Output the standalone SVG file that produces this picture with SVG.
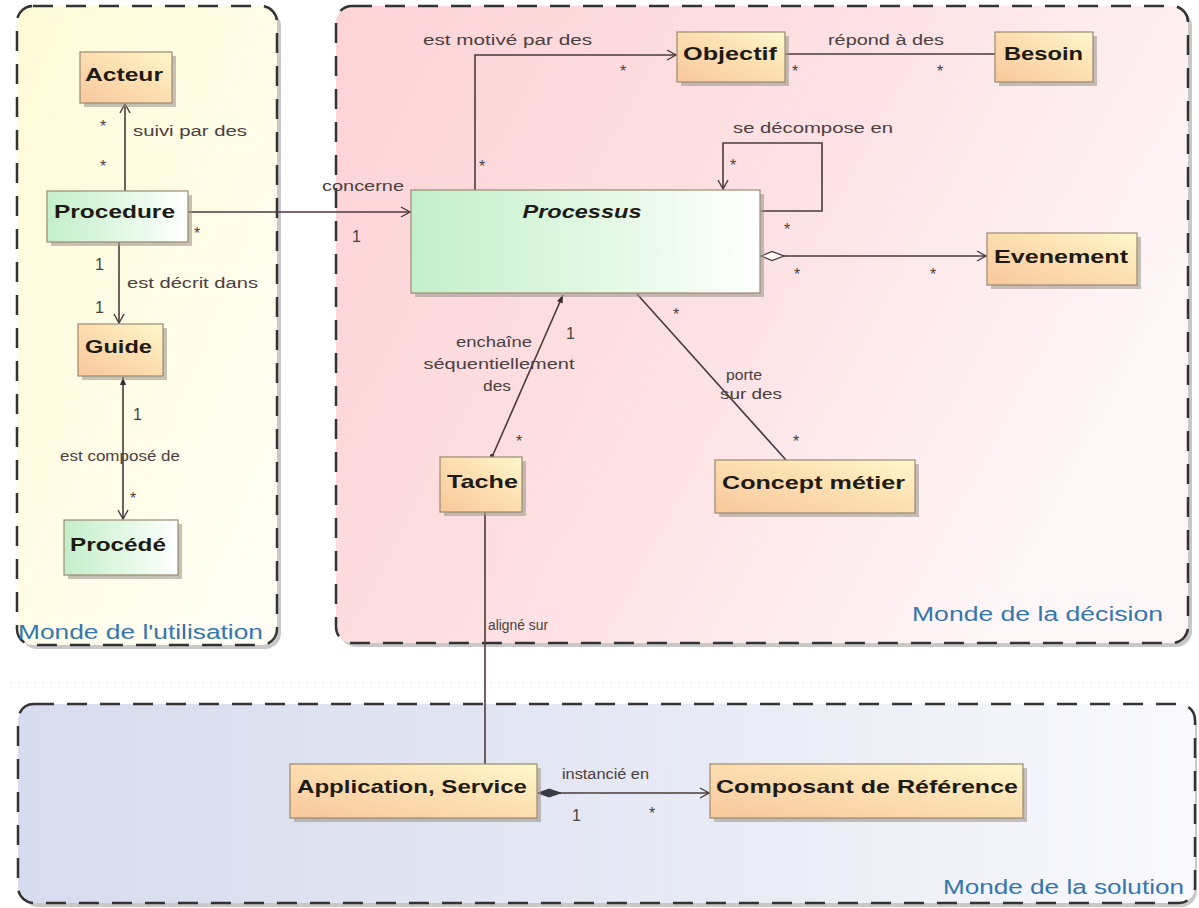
<svg xmlns="http://www.w3.org/2000/svg" width="1199" height="908" viewBox="0 0 1199 908">
<defs>
<linearGradient id="gYel" x1="0" y1="0" x2="1" y2="1"><stop offset="0" stop-color="#fffbd8"/><stop offset="1" stop-color="#fffef6"/></linearGradient>
<linearGradient id="gPink" x1="0" y1="0" x2="1" y2="0.4"><stop offset="0" stop-color="#fdd3d6"/><stop offset="0.6" stop-color="#fde3e6"/><stop offset="1" stop-color="#fff6f7"/></linearGradient>
<linearGradient id="gBlue" x1="0" y1="0" x2="1" y2="0"><stop offset="0" stop-color="#d6dcee"/><stop offset="0.6" stop-color="#e8ebf5"/><stop offset="1" stop-color="#fafafd"/></linearGradient>
<linearGradient id="gOr" x1="0" y1="1" x2="1" y2="0"><stop offset="0" stop-color="#f8c89c"/><stop offset="0.6" stop-color="#fde2b4"/><stop offset="1" stop-color="#fff8cc"/></linearGradient>
<linearGradient id="gGr" x1="0" y1="0" x2="1" y2="0"><stop offset="0" stop-color="#c3efca"/><stop offset="0.6" stop-color="#e6f9e8"/><stop offset="1" stop-color="#ffffff"/></linearGradient>
<marker id="open" markerWidth="12" markerHeight="12" refX="10" refY="6" orient="auto" markerUnits="userSpaceOnUse"><path d="M1,1 L10,6 L1,11" fill="none" stroke="#4a3a3a" stroke-width="1.4"/></marker>
<marker id="fdiam" markerWidth="26" markerHeight="12" refX="1" refY="6" orient="auto" markerUnits="userSpaceOnUse"><path d="M1,6 L12,2 L24,6 L12,10 Z" fill="#3a3a45" stroke="#3a3a45"/></marker>
<marker id="hdiam" markerWidth="28" markerHeight="12" refX="1" refY="6" orient="auto" markerUnits="userSpaceOnUse"><path d="M1,6 L12,1.5 L24,6 L12,10.5 Z" fill="#fff8f8" stroke="#4a3a3a" stroke-width="1.3"/></marker>
<marker id="sfill" markerWidth="10" markerHeight="10" refX="1" refY="5" orient="auto" markerUnits="userSpaceOnUse"><path d="M1,5 L9,2 L9,8 Z" fill="#3a2a2a"/></marker>
</defs>
<style>
.cont{stroke:#333;stroke-width:2.5;stroke-dasharray:20 13}
.csh{fill:#9a9a9a;opacity:0.55}
.clab{font-family:"Liberation Sans",Arial,sans-serif;font-size:20px;fill:#3476ad}
.box{stroke:#9a8a70;stroke-width:1.2}
.sh{fill:#a09a90;opacity:0.6}
.nt{font-family:"Liberation Sans",Arial,sans-serif;font-weight:bold;font-size:19px;fill:#1e1a14}
.lab{font-family:"Liberation Sans",Arial,sans-serif;font-size:14px;fill:#4a4040}
.m{font-family:"Liberation Sans",Arial,sans-serif;font-size:16px;fill:#4a4040}
.ln{fill:none;stroke:#4a3a3a;stroke-width:1.6}
</style>
<rect width="1199" height="908" fill="#ffffff"/>
<g id="bg-grid" stroke="#e4e4d8" stroke-width="1" stroke-dasharray="2 6">
<line x1="10" y1="683" x2="1195" y2="683"/>
</g>
<g id="monde-utilisation">
<rect class="csh" x="21" y="10" width="260" height="639" rx="16"/>
<rect class="cont" x="17" y="6" width="260" height="639" rx="16" fill="url(#gYel)"/>
<text class="clab" x="18" y="639" textLength="245" lengthAdjust="spacingAndGlyphs">Monde de l'utilisation</text>
</g>
<g id="monde-decision">
<rect class="csh" x="340" y="10" width="852" height="637" rx="16"/>
<rect class="cont" x="336" y="6" width="852" height="637" rx="16" fill="url(#gPink)"/>
<text class="clab" x="912" y="621" textLength="251" lengthAdjust="spacingAndGlyphs">Monde de la décision</text>
</g>
<g id="monde-solution">
<rect class="csh" x="22" y="708" width="1175" height="199" rx="16"/>
<rect class="cont" x="18" y="704" width="1177" height="199" rx="16" fill="url(#gBlue)"/>
<text class="clab" x="943" y="894" textLength="241" lengthAdjust="spacingAndGlyphs">Monde de la solution</text>
</g>
<g id="connectors">
<line class="ln" x1="125" y1="191" x2="125" y2="104" marker-end="url(#open)"/>
<text class="lab" x="133" y="136" textLength="114" lengthAdjust="spacingAndGlyphs">suivi par des</text>
<text class="m" x="100" y="132">*</text>
<text class="m" x="100" y="172">*</text>
<line class="ln" x1="119" y1="242" x2="119" y2="323" marker-end="url(#open)"/>
<text class="m" x="95" y="270">1</text>
<text class="m" x="95" y="313">1</text>
<text class="lab" x="127" y="288" textLength="131" lengthAdjust="spacingAndGlyphs">est décrit dans</text>
<line class="ln" x1="123" y1="377" x2="123" y2="519" marker-start="url(#sfill)" marker-end="url(#open)"/>
<text class="m" x="133" y="420">1</text>
<text class="lab" x="60" y="461" font-size="12" textLength="120" lengthAdjust="spacingAndGlyphs">est composé de</text>
<text class="m" x="130" y="504">*</text>
<line class="ln" x1="188" y1="212" x2="410" y2="212" marker-end="url(#open)"/>
<text class="lab" x="322" y="191" textLength="82" lengthAdjust="spacingAndGlyphs">concerne</text>
<text class="m" x="352" y="242">1</text>
<text class="m" x="194" y="239">*</text>
<polyline class="ln" points="475,190 475,55 676,55" marker-end="url(#open)"/>
<text class="lab" x="423" y="45" textLength="169" lengthAdjust="spacingAndGlyphs">est motivé par des</text>
<text class="m" x="479" y="172">*</text>
<text class="m" x="620" y="77">*</text>
<line class="ln" x1="785" y1="54" x2="995" y2="54"/>
<text class="lab" x="828" y="45" textLength="116" lengthAdjust="spacingAndGlyphs">répond à des</text>
<text class="m" x="792" y="77">*</text>
<text class="m" x="937" y="77">*</text>
<polyline class="ln" points="761,211 822,211 822,143 723,143 723,189" marker-end="url(#open)"/>
<text class="lab" x="733" y="133" textLength="160" lengthAdjust="spacingAndGlyphs">se décompose en</text>
<text class="m" x="730" y="171">*</text>
<text class="m" x="784" y="235">*</text>
<line class="ln" x1="761" y1="256" x2="986" y2="256" marker-start="url(#hdiam)" marker-end="url(#open)"/>
<text class="m" x="794" y="280">*</text>
<text class="m" x="930" y="280">*</text>
<line class="ln" x1="563" y1="295" x2="492" y2="457" marker-start="url(#sfill)"/>
<circle cx="492" cy="456" r="2.2" fill="#4a3a3a"/>
<text class="lab" x="494" y="347" text-anchor="middle" textLength="76" lengthAdjust="spacingAndGlyphs">enchaîne</text>
<text class="lab" x="499" y="369" text-anchor="middle" textLength="151" lengthAdjust="spacingAndGlyphs">séquentiellement</text>
<text class="lab" x="497" y="391" text-anchor="middle" textLength="28" lengthAdjust="spacingAndGlyphs">des</text>
<text class="m" x="566" y="339">1</text>
<text class="m" x="516" y="447">*</text>
<line class="ln" x1="637" y1="294" x2="786" y2="460"/>
<text class="m" x="673" y="320">*</text>
<text class="m" x="793" y="447">*</text>
<text class="lab" x="726" y="380" textLength="36" lengthAdjust="spacingAndGlyphs">porte</text>
<text class="lab" x="720" y="399" textLength="62" lengthAdjust="spacingAndGlyphs">sur des</text>
<line class="ln" x1="485" y1="512" x2="485" y2="764"/>
<text class="lab" x="488" y="630" font-size="12" textLength="60" lengthAdjust="spacingAndGlyphs">aligné sur</text>
<line class="ln" x1="538" y1="793" x2="709" y2="793" marker-start="url(#fdiam)" marker-end="url(#open)"/>
<text class="lab" x="562" y="779" textLength="87" lengthAdjust="spacingAndGlyphs">instancié en</text>
<text class="m" x="572" y="821">1</text>
<text class="m" x="649" y="819">*</text>
</g>
<g id="acteur">
<rect class="sh" x="84" y="56" width="92" height="51"/>
<rect class="box" x="80" y="52" width="92" height="51" fill="url(#gOr)"/>
<text class="nt" x="85" y="81" textLength="78" lengthAdjust="spacingAndGlyphs">Acteur</text>
</g>
<g id="procedure">
<rect class="sh" x="51" y="195" width="141" height="51"/>
<rect class="box" x="47" y="191" width="141" height="51" fill="url(#gGr)"/>
<text class="nt" x="54" y="218" textLength="121" lengthAdjust="spacingAndGlyphs">Procedure</text>
</g>
<g id="guide">
<rect class="sh" x="82" y="328" width="85" height="52"/>
<rect class="box" x="78" y="324" width="85" height="52" fill="url(#gOr)"/>
<text class="nt" x="85" y="353" textLength="67" lengthAdjust="spacingAndGlyphs">Guide</text>
</g>
<g id="procede">
<rect class="sh" x="68" y="524" width="114" height="55"/>
<rect class="box" x="64" y="520" width="114" height="55" fill="url(#gGr)"/>
<text class="nt" x="70" y="551" textLength="96" lengthAdjust="spacingAndGlyphs">Procédé</text>
</g>
<g id="processus">
<rect class="sh" x="415" y="194" width="349" height="103"/>
<rect class="box" x="411" y="190" width="349" height="103" fill="url(#gGr)"/>
<text class="nt" x="582" y="218" font-style="italic" text-anchor="middle" textLength="119" lengthAdjust="spacingAndGlyphs">Processus</text>
</g>
<g id="objectif">
<rect class="sh" x="681" y="36" width="108" height="50"/>
<rect class="box" x="677" y="32" width="108" height="50" fill="url(#gOr)"/>
<text class="nt" x="683" y="60" textLength="94" lengthAdjust="spacingAndGlyphs">Objectif</text>
</g>
<g id="besoin">
<rect class="sh" x="999" y="36" width="98" height="50"/>
<rect class="box" x="995" y="32" width="98" height="50" fill="url(#gOr)"/>
<text class="nt" x="1004" y="60" textLength="79" lengthAdjust="spacingAndGlyphs">Besoin</text>
</g>
<g id="evenement">
<rect class="sh" x="991" y="237" width="150" height="52"/>
<rect class="box" x="987" y="233" width="150" height="52" fill="url(#gOr)"/>
<text class="nt" x="994" y="263" textLength="134" lengthAdjust="spacingAndGlyphs">Evenement</text>
</g>
<g id="tache">
<rect class="sh" x="444" y="461" width="82" height="55"/>
<rect class="box" x="440" y="457" width="82" height="55" fill="url(#gOr)"/>
<text class="nt" x="447" y="488" textLength="71" lengthAdjust="spacingAndGlyphs">Tache</text>
</g>
<g id="concept-metier">
<rect class="sh" x="719" y="464" width="200" height="53"/>
<rect class="box" x="715" y="460" width="200" height="53" fill="url(#gOr)"/>
<text class="nt" x="722" y="489" textLength="183" lengthAdjust="spacingAndGlyphs">Concept métier</text>
</g>
<g id="application-service">
<rect class="sh" x="294" y="768" width="247" height="54"/>
<rect class="box" x="290" y="764" width="247" height="54" fill="url(#gOr)"/>
<text class="nt" x="297" y="793" textLength="230" lengthAdjust="spacingAndGlyphs">Application, Service</text>
</g>
<g id="composant-reference">
<rect class="sh" x="714" y="768" width="313" height="54"/>
<rect class="box" x="710" y="764" width="313" height="54" fill="url(#gOr)"/>
<text class="nt" x="716" y="793" textLength="302" lengthAdjust="spacingAndGlyphs">Composant de Référence</text>
</g>
</svg>
